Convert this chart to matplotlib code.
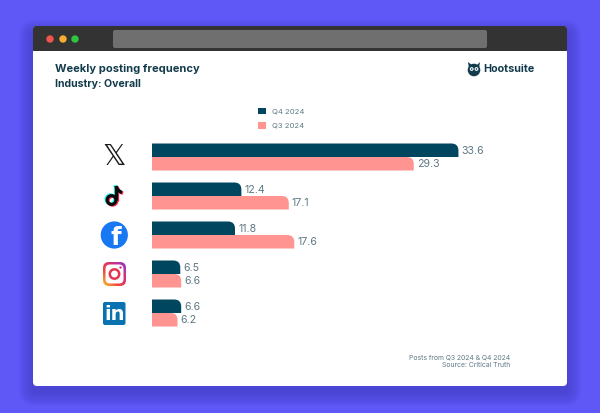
import numpy as np
import matplotlib
matplotlib.use("Agg")
from matplotlib import pyplot as plt
from matplotlib.colors import LinearSegmentedColormap
from matplotlib.patches import Circle, FancyBboxPatch, Patch, PathPatch, Rectangle
from matplotlib.path import Path

platforms = ["X", "TikTok", "Facebook", "Instagram", "LinkedIn"]
series_names = ["Q4 2024", "Q3 2024"]
# printed values
q4_values = [33.6, 12.4, 11.8, 6.5, 6.6]
q3_values = [29.3, 17.1, 17.6, 6.6, 6.2]
# bars in the picture are not to scale with their labels, so lengths are read separately
q4_lengths = [33.6, 9.8, 9.1, 3.1, 3.2]
q3_lengths = [28.7, 15.0, 15.6, 3.2, 2.8]

title = "Weekly posting frequency"
subtitle = "Industry: Overall"
footer = ["Posts from Q3 2024 & Q4 2024", "Source: Critical Truth"]

DARK = "#00465E"
PINK = "#FF9490"
INK = "#123B4C"
GREY = "#5E7885"
BG = "#5F57F6"

plt.rcParams["font.family"] = ["Inter", "DejaVu Sans"]

fig = plt.figure(figsize=(6, 4.13), dpi=100, facecolor=BG)

# page axes in pixels, for the browser window and the icons
page = fig.add_axes([0, 0, 1, 1])
page.set_xlim(0, 600)
page.set_ylim(413, 0)
page.axis("off")

# soft shadow
for i in range(14):
    grow = 14 - i
    page.add_patch(FancyBboxPatch((33 - grow, 28 - grow + 6), 534 + 2 * grow, 358 + 2 * grow,
                                  boxstyle="round,pad=0,rounding_size=%d" % (grow + 3),
                                  fc="#2A2590", ec="none", alpha=0.025))

page.add_patch(FancyBboxPatch((33, 26), 534, 360, boxstyle="round,pad=0,rounding_size=4",
                              fc="white", ec="none"))
page.add_patch(FancyBboxPatch((33, 26), 534, 25, boxstyle="round,pad=0,rounding_size=3",
                              fc="#333333", ec="none"))
page.add_patch(Rectangle((33, 36), 534, 15, fc="#333333", ec="none"))
page.add_patch(FancyBboxPatch((113, 30), 374, 18, boxstyle="round,pad=0,rounding_size=2",
                              fc="#6F6F6F", ec="none"))
for x, c in zip([50, 63, 75], ["#F0564A", "#F5AE30", "#2FC63F"]):
    page.add_patch(Circle((x, 39), 3.7, fc=c, ec="none"))

page.text(55, 69.5, title, fontsize=8, fontweight="bold", color=INK, va="center")
page.text(55, 84, subtitle, fontsize=7.6, fontweight="bold", color=INK, va="center")
page.text(510, 357.5, footer[0], fontsize=4.95, color=GREY, ha="right", va="center")
page.text(510, 365, footer[1], fontsize=4.95, color=GREY, ha="right", va="center")

# hootsuite logo
page.add_patch(Circle((474, 70), 6.3, fc=INK, ec="none"))
page.add_patch(PathPatch(Path([(468, 62), (472, 65), (477, 65), (480, 62), (479, 68), (469, 68)],
                              closed=False), fc=INK, ec="none"))
for x in [471.7, 476.5]:
    page.add_patch(Circle((x, 69), 1.9, fc="white", ec="none"))
    page.add_patch(Circle((x, 69), 0.8, fc=INK, ec="none"))
page.text(483, 69.5, "Hootsuite", fontsize=7.8, fontweight="bold", color=INK, va="center")

# X icon
page.text(114, 157, "\U0001D54F", fontsize=21, color="#1A1A1A", ha="center", va="center",
          family="DejaVu Sans")

# TikTok icon
def tiktok(dx, dy, c):
    stem = Path([(116 + dx, 186 + dy), (116 + dx, 200 + dy)])
    flag = Path([(116 + dx, 186 + dy), (117 + dx, 191 + dy), (122 + dx, 192.5 + dy)], [1, 3, 3])
    bowl = Circle((111.5 + dx, 200 + dy), 4.4, fc="none", ec=c, lw=2.2)
    page.add_patch(PathPatch(stem, fc="none", ec=c, lw=2.4, capstyle="butt"))
    page.add_patch(PathPatch(flag, fc="none", ec=c, lw=2.4, capstyle="butt"))
    page.add_patch(bowl)

tiktok(-1.1, -0.8, "#25F4EE")
tiktok(1.1, 0.8, "#FE2C55")
tiktok(0, 0, "#0A0A0A")

# Facebook icon
page.add_patch(Circle((114.3, 235), 13.6, fc="#1877F2", ec="none"))
page.text(115.5, 238, "f", fontsize=17.5, fontweight="bold", color="white", ha="center", va="center",
          family="DejaVu Sans")

# Instagram icon
ig_cmap = LinearSegmentedColormap.from_list("ig", ["#FEC22E", "#F0463C", "#D62E7C", "#8A3AC8"])
ig_box = FancyBboxPatch((103, 262), 23, 24, boxstyle="round,pad=0,rounding_size=6",
                        fc="none", ec="none")
page.add_patch(ig_box)
yy, xx = np.mgrid[0:1:40j, 0:1:40j]
ig = page.imshow(xx + yy, extent=(103, 126, 286, 262), cmap=ig_cmap, origin="lower", aspect="auto", zorder=2)
ig.set_clip_path(ig_box)
page.set_xlim(0, 600)
page.set_ylim(413, 0)
page.add_patch(FancyBboxPatch((105.5, 264.5), 18, 19, boxstyle="round,pad=0,rounding_size=4.5",
                              fc="white", ec="none", zorder=3))
page.add_patch(Circle((114.5, 274), 4.7, fc="none", ec="#E6354F", lw=1.8, zorder=3))
page.add_patch(Circle((120.5, 267.5), 1.2, fc="#C4308F", ec="none", zorder=3))

# LinkedIn icon
page.add_patch(FancyBboxPatch((103, 302), 22.5, 23, boxstyle="round,pad=0,rounding_size=2",
                              fc="#0A72B1", ec="none"))
page.text(114.3, 314.5, "in", fontsize=14, fontweight="bold", color="white", ha="center", va="center",
          family="DejaVu Sans")

# bars
ax = fig.add_axes([152 / 600, 1 - 332.5 / 413, 415 / 600, 195 / 413])
ax.set_xlim(0, 415 / 9.12)
ax.set_ylim(4.5, -0.5)
ax.axis("off")
ax.patch.set_alpha(0)

bar_h = 13.5 / 39
label_shift = 0.7 / 39


def rounded_bar(length, top, color):
    # only the upper right corner is rounded
    rx = 7 / 9.12
    ry = 7 / 39
    verts = [(0, top), (length - rx, top), (length, top), (length, top + ry),
             (length, top + bar_h), (0, top + bar_h), (0, top)]
    codes = [Path.MOVETO, Path.LINETO, Path.CURVE3, Path.CURVE3, Path.LINETO, Path.LINETO, Path.CLOSEPOLY]
    ax.add_patch(PathPatch(Path(verts, codes), fc=color, ec="none"))


for i in range(len(platforms)):
    rounded_bar(q4_lengths[i], i - bar_h, DARK)
    rounded_bar(q3_lengths[i], i, PINK)
    ax.text(q4_lengths[i] + 0.35, i - bar_h / 2 + label_shift, "%.1f" % q4_values[i], fontsize=7.6, color=GREY, va="center")
    ax.text(q3_lengths[i] + 0.35, i + bar_h / 2 + label_shift, "%.1f" % q3_values[i], fontsize=7.6, color=GREY, va="center")

handles = [Patch(fc=DARK, ec="none"), Patch(fc=PINK, ec="none")]
fig.legend(handles, series_names, loc="center left", bbox_to_anchor=(251 / 600, 1 - 118.2 / 413),
           frameon=False, fontsize=5.5, labelcolor=GREY, handlelength=1.0, handleheight=1.0,
           handletextpad=0.85, labelspacing=0.95)

fig.savefig("out.png", dpi=100, facecolor=BG)
